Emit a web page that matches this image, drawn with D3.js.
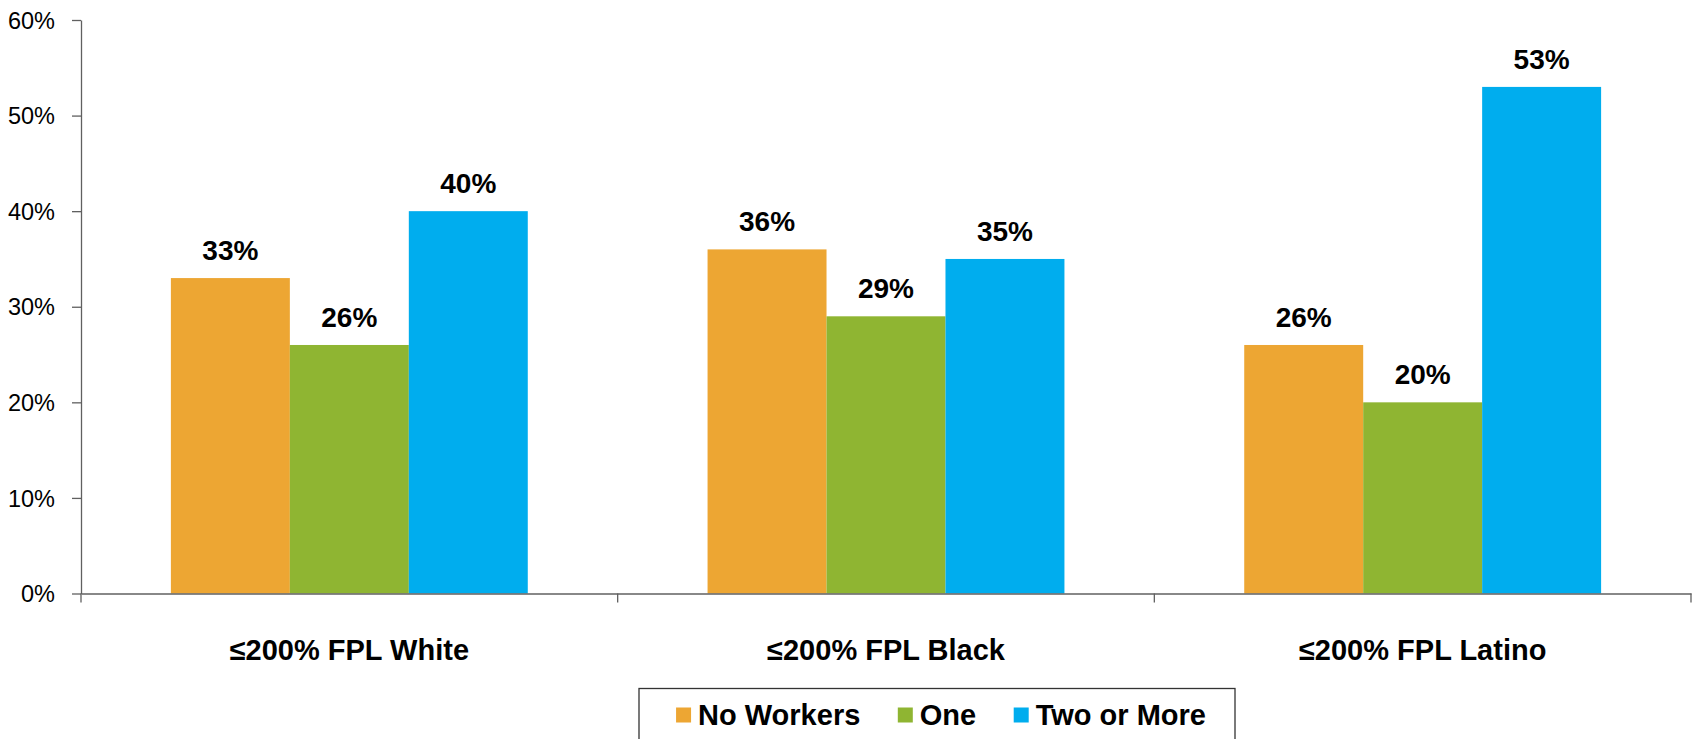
<!DOCTYPE html>
<html lang="en">
  <head>
    <meta charset="utf-8">
    <title>Workers in household by group</title>
    <script src="https://d3js.org/d3.v7.min.js"></script>
    <style>
      body { margin: 0; background: #fff; }
      text { font-family: "Liberation Sans", Arial, sans-serif; fill: #000; }
      .y-axis text { font-size: 23.5px; }
      .x-axis text { font-size: 29px; font-weight: bold; }
      .value { font-size: 28px; font-weight: bold; }
      .legend text { font-size: 29px; font-weight: bold; }
    </style>
  </head>
  <body>
    <script>
      var width = 1700,
          height = 739;

      // groups along the x axis, and one value list per series
      var categories = ["\u2264200% FPL White", "\u2264200% FPL Black", "\u2264200% FPL Latino"];
      var seriesNames = ["No Workers", "One", "Two or More"];
      var noWorkers = [0.33, 0.36, 0.26];
      var one = [0.26, 0.29, 0.20];
      var twoOrMore = [0.40, 0.35, 0.53];
      var yTicks = [0, 0.1, 0.2, 0.3, 0.4, 0.5, 0.6];
      var colors = ["#EDA633", "#8FB532", "#00ADEE"];

      var seriesValues = [noWorkers, one, twoOrMore];
      var rows = categories.map(function(c, i) {
        return { cat: c, vals: seriesNames.map(function(s, j) { return { key: s, value: seriesValues[j][i] }; }) };
      });

      var margin = { top: 20, right: 9, bottom: 145.5, left: 81 };

      var svg = d3.select("body").append("svg")
                  .attr("width", width)
                  .attr("height", height);

      var x0 = d3.scaleBand()
                 .domain(categories)
                 .range([margin.left, width - margin.right])
                 .paddingInner(0.335)
                 .paddingOuter(0.1675);

      var x1 = d3.scaleBand()
                 .domain(seriesNames)
                 .range([0, x0.bandwidth()]);

      var y = d3.scaleLinear()
                .domain([0, 0.6])
                .range([height - margin.bottom, margin.top]);

      var color = d3.scaleOrdinal().domain(seriesNames).range(colors);

      //Bars
      var groups = svg.append("g")
         .selectAll("g")
         .data(rows)
         .join("g")
           .attr("transform", function(d) { return "translate(" + x0(d.cat) + ",0)"; });

      groups.selectAll("rect")
         .data(function(d) { return d.vals; })
         .join("rect")
           .attr("x", function(d) { return x1(d.key); })
           .attr("y", function(d) { return y(d.value); })
           .attr("width", x1.bandwidth())
           .attr("height", function(d) { return y(0) - y(d.value); })
           .attr("fill", function(d) { return color(d.key); });

      //Value labels above bars
      groups.selectAll("text.value")
         .data(function(d) { return d.vals; })
         .join("text")
           .attr("class", "value")
           .attr("x", function(d) { return x1(d.key) + x1.bandwidth() / 2; })
           .attr("y", function(d) { return y(d.value) - 18; })
           .attr("text-anchor", "middle")
           .text(function(d) { return d3.format(".0%")(d.value); });

      //Y axis
      svg.append("g")
         .attr("class", "y-axis")
         .attr("transform", "translate(" + margin.left + ",0)")
         .call(d3.axisLeft(y)
           .tickValues(yTicks)
           .tickFormat(d3.format(".0%"))
           .tickSize(9)
           .tickSizeOuter(0)
           .tickPadding(17))
         .call(function(g) { g.selectAll("line, path").attr("stroke", "#606060").attr("stroke-width", 1.3); })
         .call(function(g) { g.selectAll("text").attr("dy", "0.35em"); });

      //X axis: labels centred under groups, ticks at group boundaries
      var xAxis = svg.append("g")
         .attr("class", "x-axis")
         .attr("transform", "translate(0," + y(0) + ")")
         .call(d3.axisBottom(x0).tickSize(0).tickSizeOuter(0))
         .call(function(g) { g.select(".domain").attr("stroke", "#606060").attr("stroke-width", 1.3); })
         .call(function(g) { g.selectAll("text").attr("y", 66.5).attr("dy", null); });

      var pad = x0.step() * x0.paddingOuter();
      var bounds = categories.map(function(c) { return x0(c) - pad; }).concat([x0.range()[1]]);
      xAxis.selectAll("line.bound")
         .data(bounds)
         .join("line")
           .attr("class", "bound")
           .attr("x1", function(d) { return d; })
           .attr("x2", function(d) { return d; })
           .attr("y1", 0)
           .attr("y2", 9)
           .attr("stroke", "#606060")
           .attr("stroke-width", 1.3);

      //Legend
      var legend = svg.append("g").attr("class", "legend");
      var boxLeft = 639, boxRight = 1235, boxTop = 688.5;
      legend.append("rect")
         .attr("x", boxLeft)
         .attr("y", boxTop)
         .attr("width", boxRight - boxLeft)
         .attr("height", 120)
         .attr("fill", "#fff")
         .attr("stroke", "#333")
         .attr("stroke-width", 1.3);

      var items = legend.selectAll("g.item")
         .data(seriesNames)
         .join("g")
           .attr("class", "item");
      items.append("rect")
           .attr("width", 15)
           .attr("height", 15)
           .attr("y", boxTop + 19)
           .attr("fill", function(d) { return color(d); });
      items.append("text")
           .attr("x", 22)
           .attr("y", boxTop + 36.5)
           .text(function(d) { return d; });

      // flow items left to right and centre them in the box
      var cursor = 0, offsets = [];
      items.each(function() {
        var w = d3.select(this).select("text").node().getComputedTextLength();
        offsets.push(cursor);
        cursor += 22 + w + 37.5;
      });
      var total = cursor - 37.5;
      var start = (boxLeft + boxRight) / 2 - total / 2 + 4;
      items.attr("transform", function(d, i) { return "translate(" + (start + offsets[i]) + ",0)"; });
    </script>
  </body>
</html>
